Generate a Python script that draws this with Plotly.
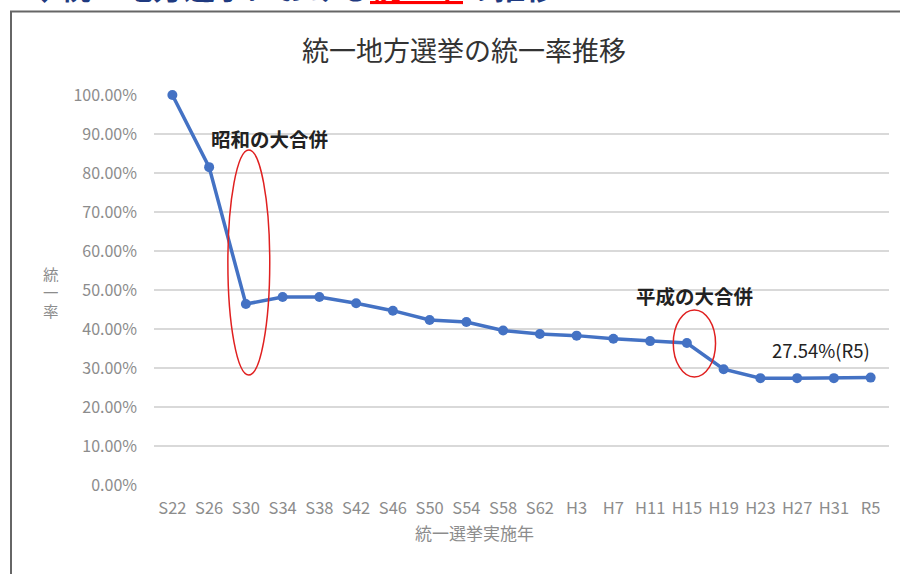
import plotly.graph_objects as go

years = ["S22", "S26", "S30", "S34", "S38", "S42", "S46", "S50", "S54", "S58",
         "S62", "H3", "H7", "H11", "H15", "H19", "H23", "H27", "H31", "R5"]
rates = [100.0, 81.5, 46.4, 48.2, 48.2, 46.6, 44.7, 42.3, 41.8, 39.6,
         38.7, 38.3, 37.5, 36.9, 36.4, 29.7, 27.4, 27.4, 27.4, 27.54]
y_ticks = [0, 10, 20, 30, 40, 50, 60, 70, 80, 90, 100]
y_ticklabels = [f"{v:.2f}%" for v in y_ticks]
y_title_chars = ["統", "一", "率"]

W, H = 900, 574
L, R, T, B = 154, 11, 95, 89
pw, ph = W - L - R, H - T - B

def px(x):
    return (x - L) / pw

def py(y):
    return (H - B - y) / ph

JP = "Noto Sans CJK JP"
GRAY = "#8c8c8c"

fig = go.Figure()
fig.add_trace(go.Scatter(
    x=years, y=rates, mode="lines+markers",
    line=dict(color="#4472C4", width=3.5),
    marker=dict(color="#4472C4", size=10),
    cliponaxis=False, showlegend=False, hoverinfo="x+y",
))

shapes = [
    # outer frame
    dict(type="rect", xref="paper", yref="paper", x0=px(11), x1=px(910), y0=py(590), y1=py(11.5),
         line=dict(color="#666666", width=2), fillcolor="rgba(0,0,0,0)", layer="below"),
    # Showa ellipse
    dict(type="circle", xref="x", yref="y", x0=1.51, x1=2.65, y0=28.2, y1=85.9,
         line=dict(color="#E02020", width=1.5)),
    # Heisei ellipse
    dict(type="circle", xref="x", yref="y", x0=13.63, x1=14.78, y0=27.7, y1=44.9,
         line=dict(color="#E02020", width=1.5)),
]

annotations = [
    dict(text="◆統一地方選挙における<span style='color:#ff0000;text-decoration:underline'>統一率</span>の推移",
         xref="paper", yref="paper", x=px(27), y=py(10), xanchor="left", yanchor="bottom",
         showarrow=False, font=dict(family=JP, size=31, color="#1f3a80", weight="bold")),
    dict(text="統一地方選挙の統一率推移", xref="paper", yref="paper", x=px(464), y=py(50),
         xanchor="center", yanchor="middle", showarrow=False,
         font=dict(family=JP, size=27, color="#333333")),
    dict(text="統一選挙実施年", xref="paper", yref="paper", x=px(474), y=py(532),
         xanchor="center", yanchor="middle", showarrow=False,
         font=dict(family=JP, size=17, color=GRAY)),
    dict(text="<b>昭和の大合併</b>", xref="paper", yref="paper", x=px(269), y=py(138),
         xanchor="center", yanchor="middle", showarrow=False,
         font=dict(family=JP, size=19.5, color="#222222")),
    dict(text="<b>平成の大合併</b>", xref="paper", yref="paper", x=px(694), y=py(295),
         xanchor="center", yanchor="middle", showarrow=False,
         font=dict(family=JP, size=19.5, color="#222222")),
    dict(text="27.54%(R5)", xref="paper", yref="paper", x=px(821), y=py(350),
         xanchor="center", yanchor="middle", showarrow=False,
         font=dict(family=JP, size=18.5, color="#222222")),
]
for i, ch in enumerate(y_title_chars):
    annotations.append(dict(text=ch, xref="paper", yref="paper", x=px(51), y=py(273 + 18.5 * i),
                            xanchor="center", yanchor="middle", showarrow=False,
                            height=17, borderpad=0,
                            font=dict(family=JP, size=15.5, color=GRAY)))

fig.update_layout(
    width=W, height=H,
    margin=dict(l=L, r=R, t=T, b=B, pad=0),
    paper_bgcolor="white", plot_bgcolor="white",
    shapes=shapes, annotations=annotations,
    xaxis=dict(type="category", range=[-0.5, 19.5], showgrid=False, zeroline=False,
               showline=False, ticks="", tickfont=dict(family=JP, size=16.5, color=GRAY),
               ticklabelstandoff=11, fixedrange=True),
    yaxis=dict(range=[0, 100], tickvals=y_ticks, ticktext=y_ticklabels,
               showgrid=True, gridcolor="#d9d9d9", gridwidth=1.5, zeroline=False,
               showline=False, ticks="", tickfont=dict(family=JP, size=16, color=GRAY),
               ticklabelstandoff=16, fixedrange=True),
)

fig.write_html("out.html", config={"displayModeBar": False},
               post_script="document.body.style.margin='0';")
